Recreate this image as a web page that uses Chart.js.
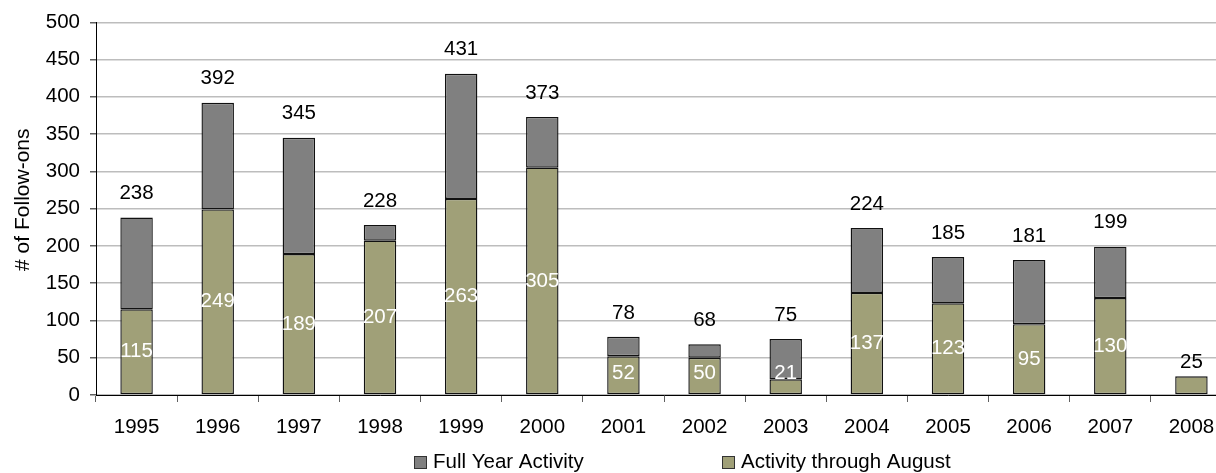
<!DOCTYPE html>
<html>
<head>
<meta charset="utf-8">
<script src="https://cdn.jsdelivr.net/npm/chart.js@4.4.1/dist/chart.umd.min.js"></script>
<style>
  html, body { margin: 0; padding: 0; background: #fff; overflow: hidden; }
  #wrap { width: 1232px; height: 473px; position: relative; }
</style>
</head>
<body>
<div id="wrap"><canvas id="chart"></canvas></div>
<script>
const years = ['1995','1996','1997','1998','1999','2000','2001','2002','2003','2004','2005','2006','2007','2008'];
const fullYear = [238, 392, 345, 228, 431, 373, 78, 68, 75, 224, 185, 181, 199, null];
const throughAugust = [115, 249, 189, 207, 263, 305, 52, 50, 21, 137, 123, 95, 130, 25];
const yTicks = [0, 50, 100, 150, 200, 250, 300, 350, 400, 450, 500];
const yTitle = '# of Follow-ons';

const FONT = 'Liberation Sans, Arial, sans-serif';
const FSIZE = 20.5;
const GRAY = '#808080';
const GREEN = '#A0A078';

// gray part is what was left after August
const remainder = fullYear.map((v, i) => v == null ? null : v - throughAugust[i]);

const labelPlugin = {
  id: 'barLabels',
  afterDatasetsDraw(chart) {
    const ctx = chart.ctx;
    const green = chart.getDatasetMeta(1).data;
    const gray = chart.getDatasetMeta(0).data;
    const base = chart.scales.y.getPixelForValue(0);
    ctx.save();
    ctx.font = FSIZE + 'px ' + FONT;
    ctx.textAlign = 'center';
    ctx.textBaseline = 'middle';
    years.forEach((y, i) => {
      const g = green[i];
      if (fullYear[i] == null) {
        ctx.fillStyle = '#000';
        ctx.fillText(String(throughAugust[i]), g.x, g.y - 14);
        return;
      }
      const mid = Math.min((g.y + g.base) / 2, base - 22);
      ctx.fillStyle = '#fff';
      ctx.fillText(String(throughAugust[i]), g.x, mid);
      ctx.fillStyle = '#000';
      ctx.fillText(String(fullYear[i]), gray[i].x, gray[i].y - 24);
    });
    ctx.restore();
  }
};

// legend spread wide like the original, plus the axis title a bit above centre
const legendPlugin = {
  id: 'wideLegend',
  afterDraw(chart) {
    const ctx = chart.ctx;
    const items = [
      { text: 'Full Year Activity', color: GRAY, x: 414 },
      { text: 'Activity through August', color: GREEN, x: 722 }
    ];
    const cy = 462;
    ctx.save();
    ctx.font = FSIZE + 'px ' + FONT;
    ctx.textBaseline = 'middle';
    ctx.textAlign = 'left';
    items.forEach(it => {
      ctx.fillStyle = it.color;
      ctx.fillRect(it.x, cy - 6, 13, 13);
      ctx.strokeStyle = '#333';
      ctx.lineWidth = 1;
      ctx.strokeRect(it.x + 0.5, cy - 5.5, 12, 12);
      ctx.fillStyle = '#000';
      ctx.fillText(it.text, it.x + 19, cy);
    });

    ctx.font = '21px ' + FONT;
    ctx.textAlign = 'center';
    ctx.translate(23, chart.scales.y.getPixelForValue(262));
    ctx.rotate(-Math.PI / 2);
    ctx.fillText(yTitle, 0, 0);
    ctx.restore();
  }
};

new Chart(document.getElementById('chart'), {
  type: 'bar',
  data: {
    labels: years,
    datasets: [
      {
        label: 'Full Year Activity',
        data: remainder,
        backgroundColor: GRAY,
        borderColor: '#111',
        borderWidth: 1.4,
        borderSkipped: false,
        stack: 's',
        order: 2
      },
      {
        label: 'Activity through August',
        data: throughAugust,
        backgroundColor: GREEN,
        borderColor: '#111',
        borderWidth: 1.4,
        borderSkipped: false,
        stack: 's',
        order: 1
      }
    ]
  },
  options: {
    responsive: true,
    maintainAspectRatio: false,
    animation: false,
    layout: { padding: { top: 21, left: 0, right: 0, bottom: 30 } },
    datasets: { bar: { categoryPercentage: 0.4, barPercentage: 1 } },
    plugins: {
      legend: { display: false },
      tooltip: { enabled: false }
    },
    scales: {
      x: {
        stacked: true,
        grid: { drawOnChartArea: false, drawTicks: true, tickLength: 7, color: '#606060', offset: true },
        border: { color: '#000', width: 1 },
        ticks: { color: '#000', font: { family: FONT, size: FSIZE }, padding: 13, maxRotation: 0, autoSkip: false },
        afterFit(s) { s.height = 473 - 30 - 395; }
      },
      y: {
        stacked: true,
        min: 0,
        max: 500,
        afterBuildTicks(s) { s.ticks = yTicks.map(v => ({ value: v })); },
        grid: { color: '#BDBDBD', lineWidth: 1.5, tickLength: 6, tickColor: '#606060' },
        border: { color: '#000', width: 1 },
        ticks: { color: '#000', font: { family: FONT, size: FSIZE }, padding: 10 },
        afterFit(s) { s.width = 96; }
      }
    }
  },
  plugins: [labelPlugin, legendPlugin]
});
</script>
</body>
</html>
